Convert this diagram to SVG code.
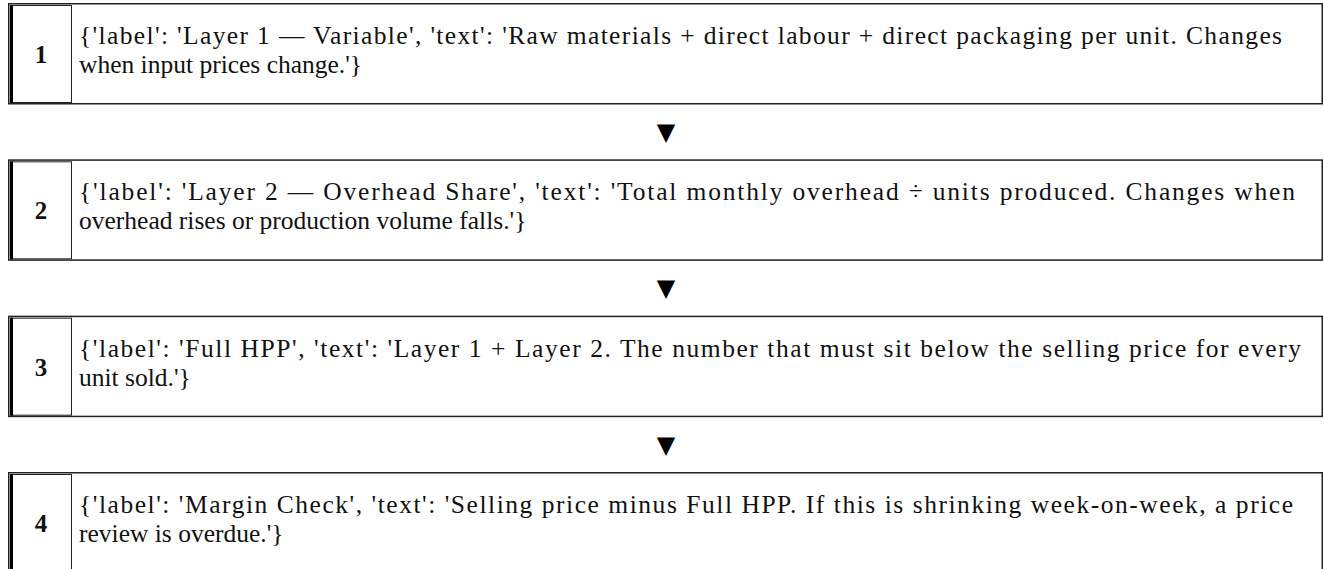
<svg xmlns="http://www.w3.org/2000/svg" width="1324" height="569" viewBox="0 0 1324 569">
<style>
.outer{fill:#fff;stroke:#222;stroke-width:1.5}
.cell{fill:#fff;stroke:#222;stroke-width:1}
.bar{stroke:#000;stroke-width:3}
.num{font-family:"Liberation Serif",serif;font-weight:bold;font-size:25px;fill:#111;text-anchor:middle}
.txt{font-family:"Liberation Serif",serif;font-size:25.5px;fill:#111}
.arr{font-family:"DejaVu Sans",sans-serif;font-size:24px;fill:#000;text-anchor:middle}
</style>
<rect width="1324" height="569" fill="#fff"/>
<g id="connectors">
<text class="arr" x="666" y="140">▼</text>
<text class="arr" x="666" y="296.3">▼</text>
<text class="arr" x="666" y="452.7">▼</text>
</g>
<g id="node1" transform="translate(0,0)">
<rect class="outer" x="8.75" y="3.75" width="1313.5" height="100"/>
<rect class="cell" x="11.5" y="5.5" width="60" height="97"/>
<line class="bar" x1="11.5" y1="5" x2="11.5" y2="103"/>
<text class="num" x="41" y="63">1</text>
<text class="txt" x="79" y="44" textLength="1203" lengthAdjust="spacing">{'label': 'Layer 1 — Variable', 'text': 'Raw materials + direct labour + direct packaging per unit. Changes</text>
<text class="txt" x="79" y="73">when input prices change.'}</text>
</g>
<g id="node2" transform="translate(0,156.33)">
<rect class="outer" x="8.75" y="3.75" width="1313.5" height="100"/>
<rect class="cell" x="11.5" y="5.5" width="60" height="97"/>
<line class="bar" x1="11.5" y1="5" x2="11.5" y2="103"/>
<text class="num" x="41" y="63">2</text>
<text class="txt" x="79" y="44" textLength="1216" lengthAdjust="spacing">{'label': 'Layer 2 — Overhead Share', 'text': 'Total monthly overhead ÷ units produced. Changes when</text>
<text class="txt" x="79" y="73">overhead rises or production volume falls.'}</text>
</g>
<g id="node3" transform="translate(0,312.67)">
<rect class="outer" x="8.75" y="3.75" width="1313.5" height="100"/>
<rect class="cell" x="11.5" y="5.5" width="60" height="97"/>
<line class="bar" x1="11.5" y1="5" x2="11.5" y2="103"/>
<text class="num" x="41" y="63">3</text>
<text class="txt" x="79" y="44" textLength="1222" lengthAdjust="spacing">{'label': 'Full HPP', 'text': 'Layer 1 + Layer 2. The number that must sit below the selling price for every</text>
<text class="txt" x="79" y="73">unit sold.'}</text>
</g>
<g id="node4" transform="translate(0,469)">
<rect class="outer" x="8.75" y="3.75" width="1313.5" height="100"/>
<rect class="cell" x="11.5" y="5.5" width="60" height="97"/>
<line class="bar" x1="11.5" y1="5" x2="11.5" y2="103"/>
<text class="num" x="41" y="63">4</text>
<text class="txt" x="79" y="44" textLength="1214" lengthAdjust="spacing">{'label': 'Margin Check', 'text': 'Selling price minus Full HPP. If this is shrinking week-on-week, a price</text>
<text class="txt" x="79" y="73">review is overdue.'}</text>
</g>
</svg>
